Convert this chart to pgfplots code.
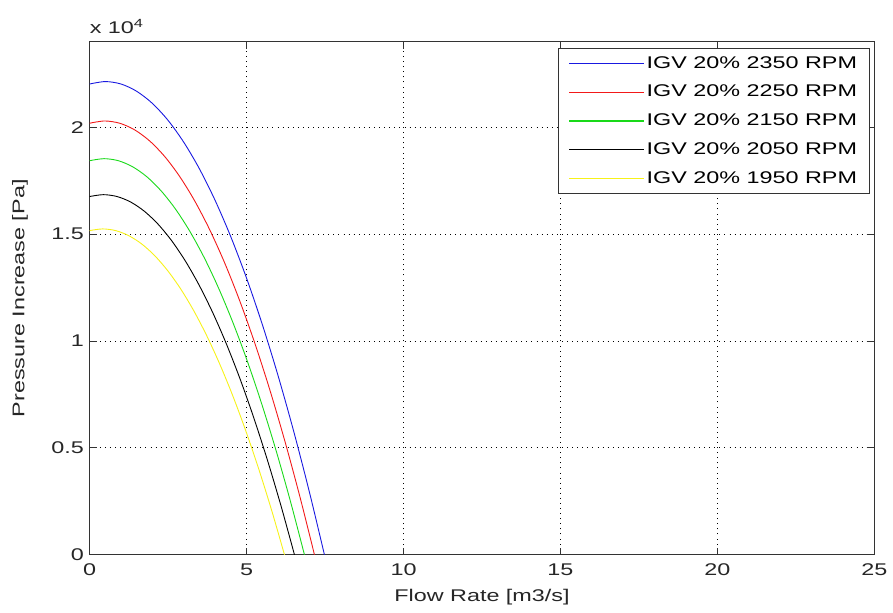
\documentclass[border=0pt]{standalone}
\usepackage{fontspec}
\setmainfont{Liberation Sans}[FakeStretch=1.38]
\usepackage{pgfplots}
\pgfplotsset{compat=1.18}
\definecolor{mblue}{rgb}{0.1,0.1,0.88}
\definecolor{mred}{rgb}{0.95,0.1,0.1}
\definecolor{mgreen}{rgb}{0.1,0.85,0.1}
\definecolor{myellow}{rgb}{0.97,0.95,0.1}
\pgfplotsset{
  leg/.style={legend image code/.code={\pgfsetstrokecolor{#1}\pgfsetlinewidth{1.3pt}\pgfpathmoveto{\pgfpoint{0pt}{0pt}}\pgfpathlineto{\pgfpoint{75pt}{0pt}}\pgfusepath{stroke}}}
}
\begin{document}
\fontsize{17pt}{20pt}\selectfont
\begin{tikzpicture}
\begin{axis}[
  scale only axis,
  width=788pt, height=515pt,
  xmin=0, xmax=25, ymin=0, ymax=24000,
  xtick={0,5,10,15,20,25},
  ytick={0,5000,10000,15000,20000},
  yticklabels={0,0.5,1,1.5,2},
  scaled y ticks=false,
  /pgf/number format/assume math mode=true,
  tick align=inside,
  major tick length=7pt,
  axis line style={line width=0.8pt, black!80},
  every tick/.style={black!80, line width=0.8pt},
  grid=major,
  major grid style={black, line width=0.7pt, dash pattern=on 0.9pt off 4.2pt},
  xticklabel style={yshift=-3pt},
  xlabel={Flow Rate [m3/s]},
  ylabel={Pressure Increase [Pa]},
  xlabel style={at={(axis description cs:0.5,-0.0835)}, anchor=center},
  ylabel style={at={(axis description cs:-0.0888,0.5)}, anchor=center},
  tick label style={text=black!85},
  label style={text=black!85},
  clip=false,
  legend style={at={(axis description cs:0.9937,0.9883)}, anchor=north east,
    draw=black!80, line width=0.8pt, fill=white,
    inner xsep=10pt, inner ysep=6pt,
    row sep=10.5pt,
    nodes={inner sep=2pt},
    legend cell align=left},
]
\addplot[mblue, smooth, line width=0.9pt, leg=mblue] coordinates {
(0,22026) (0.5,22140) (1,22026) (1.5,21685) (2,21118) (2.5,20322) (3,19299) (3.5,18051)
(4,16574) (4.5,14869) (5,12938) (5.5,10780) (6,8393) (6.5,5781) (7,2941) (7.48,0)};
\addlegendentry{IGV 20\% 2350 RPM}
\addplot[mred, smooth, line width=0.9pt, leg=mred] coordinates {
(0,20191) (0.479,20296) (0.957,20191) (1.436,19879) (1.915,19359) (2.394,18629) (2.872,17691) (3.351,16547)
(3.830,15193) (4.309,13630) (4.787,11860) (5.266,9882) (5.745,7694) (6.223,5299) (6.702,2696) (7.162,0)};
\addlegendentry{IGV 20\% 2250 RPM}
\addplot[mgreen, smooth, line width=0.9pt, leg=mgreen] coordinates {
(0,18437) (0.457,18532) (0.915,18437) (1.372,18151) (1.830,17677) (2.287,17010) (2.745,16154) (3.202,15109)
(3.660,13873) (4.117,12446) (4.574,10829) (5.032,9023) (5.489,7025) (5.947,4839) (6.404,2462) (6.843,0)};
\addlegendentry{IGV 20\% 2150 RPM}
\addplot[black, smooth, line width=0.9pt, leg=black] coordinates {
(0,16761) (0.436,16848) (0.872,16761) (1.309,16502) (1.745,16070) (2.181,15465) (2.617,14686) (3.053,13736)
(3.489,12612) (3.926,11315) (4.362,9846) (4.798,8203) (5.234,6387) (5.670,4399) (6.106,2238) (6.525,0)};
\addlegendentry{IGV 20\% 2050 RPM}
\addplot[myellow, smooth, line width=0.9pt, leg=myellow] coordinates {
(0,15166) (0.415,15245) (0.830,15166) (1.245,14931) (1.660,14541) (2.074,13993) (2.489,13288) (2.904,12429)
(3.319,11412) (3.734,10238) (4.149,8908) (4.564,7423) (4.979,5779) (5.394,3981) (5.809,2025) (6.207,0)};
\addlegendentry{IGV 20\% 1950 RPM}
\node[anchor=south west, inner sep=0pt, text=black!85] at ([yshift=8pt]rel axis cs:0,1) {x 10\textsuperscript{4}};
\coordinate (bl) at ([shift={(-90pt,-58pt)}]rel axis cs:0,0);
\coordinate (tr) at ([shift={(15pt,42pt)}]rel axis cs:1,1);
\end{axis}
\path (bl) rectangle (tr);
\end{tikzpicture}
\end{document}
